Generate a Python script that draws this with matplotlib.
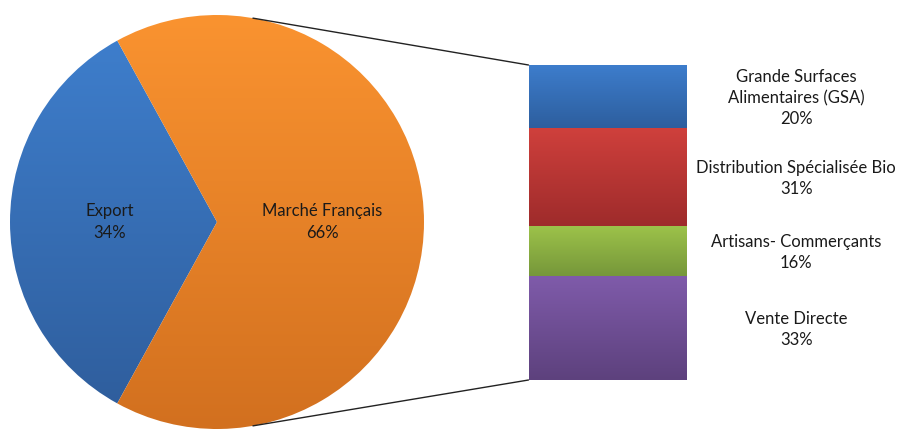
import numpy as np
import matplotlib
matplotlib.use("Agg")
import matplotlib.pyplot as plt
from matplotlib.colors import LinearSegmentedColormap
from matplotlib.patches import ConnectionPatch

plt.rcParams['font.family'] = ['Lato', 'DejaVu Sans']

# Data
pie_labels = ['Export', 'Marché Français']
pie_values = [34, 66]
pie_top = ['#3f80cf', '#fa9330']
pie_bot = ['#2e5c9a', '#d2701f']

bar_labels = ['Grande Surfaces\nAlimentaires (GSA)', 'Distribution Spécialisée Bio',
              'Artisans- Commerçants', 'Vente Directe']
bar_values = [20, 31, 16, 33]
bar_top = ['#3d7dcc', '#cf403c', '#9dc34a', '#7f5baa']
bar_bot = ['#2d5e9e', '#9e2b2b', '#76973a', '#5d417d']

fig = plt.figure(figsize=(9, 4.3), dpi=100)

# Pie of the main split
ax_pie = fig.add_axes([10 / 900, 1 / 430, 414 / 900, 414 / 430])
start = 180 - pie_values[0] / sum(pie_values) * 360 / 2
wedges, _ = ax_pie.pie(pie_values, startangle=start, counterclock=True, radius=1,
                       wedgeprops=dict(linewidth=0))
grad = np.linspace(0, 1, 256).reshape(-1, 1)
for w, c1, c2 in zip(wedges, pie_top, pie_bot):
    w.set_facecolor('none')
    cmap = LinearSegmentedColormap.from_list('g', [c1, c2])
    im = ax_pie.imshow(grad, cmap=cmap, extent=(-1, 1, -1, 1), origin='upper',
                       aspect='auto', zorder=1)
    im.set_clip_path(w)
ax_pie.set_xlim(-1, 1)
ax_pie.set_ylim(-1, 1)
ax_pie.set_aspect('equal')
ax_pie.axis('off')

fs = 12
ax_pie.text(-0.52, 0.0, f'{pie_labels[0]}\n{pie_values[0]}%', ha='center', va='center',
            fontsize=fs, color='#1a1a1a', linespacing=1.4)
ax_pie.text(0.51, 0.0, f'{pie_labels[1]}\n{pie_values[1]}%', ha='center', va='center',
            fontsize=fs, color='#1a1a1a', linespacing=1.4)

# Stacked bar detailing the French market
ax_bar = fig.add_axes([528.5 / 900, 50 / 430, 157.5 / 900, 315 / 430])
bottoms = np.concatenate([[0], np.cumsum(bar_values)[:-1]])
bars = ax_bar.bar(0.5, bar_values, bottom=bottoms, width=1.0, color='none', linewidth=0)
for b, c1, c2 in zip(bars, bar_top, bar_bot):
    cmap = LinearSegmentedColormap.from_list('g', [c1, c2])
    y0 = b.get_y()
    y1 = y0 + b.get_height()
    im = ax_bar.imshow(grad, cmap=cmap, extent=(0, 1, y1, y0), origin='upper',
                       aspect='auto', zorder=1)
    im.set_clip_path(b)
ax_bar.set_xlim(0, 1)
ax_bar.set_ylim(100, 0)
ax_bar.axis('off')

for lab, v, b0 in zip(bar_labels, bar_values, bottoms):
    ax_bar.text(1.70, b0 + v / 2 + 0.5, f'{lab}\n{v}%', ha='center', va='center',
                fontsize=fs, color='#1a1a1a', linespacing=1.4, clip_on=False)

# Connector lines
ang = np.deg2rad(80)
for py, by in [(np.sin(ang), 0), (-np.sin(ang), 100)]:
    con = ConnectionPatch(xyA=(np.cos(ang), py), coordsA=ax_pie.transData,
                          xyB=(0, by), coordsB=ax_bar.transData,
                          color='#222222', linewidth=1.0)
    fig.add_artist(con)

fig.savefig('out.png', dpi=100)
